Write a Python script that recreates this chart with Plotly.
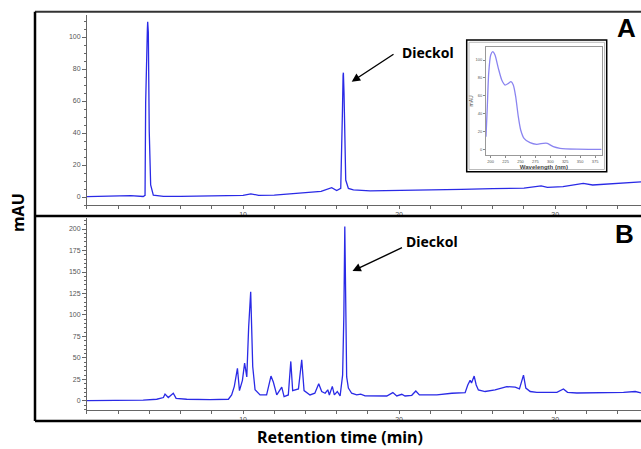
import plotly.graph_objects as go

# ---------------- data ----------------
# Panel A chromatogram (retention time, mAU)
tA = [0, 2.0, 2.8, 3.6, 3.72, 3.76, 3.82, 3.87, 3.89, 3.93, 3.99, 4.08, 4.25, 4.9, 6, 8, 10, 10.5, 11, 12, 14,
      15, 15.68, 16.0, 16.26, 16.32, 16.37, 16.41, 16.43, 16.47, 16.51, 16.58, 16.75, 17.07, 18.14, 20, 22, 24,
      26, 28, 29.1, 29.5, 30.5, 31.8, 32.4, 34, 35.5]
yA = [0.2, 0.3, 0.8, 0.3, 1, 59, 103, 105, 109.5, 103, 41, 7.5, 1.2, 0.4, 0.4, 0.5, 1, 2, 1, 1.2, 2.5,
      3.5, 5.8, 4, 5.4, 25, 54, 76, 77.7, 65, 34, 10.6, 5.4, 4.4, 3.8, 4, 4.3, 4.8,
      5.2, 5.6, 7, 6, 6.5, 8.5, 7.5, 8.5, 9.5]

# Panel B chromatogram
tB = [0, 2, 3.6, 4.47, 4.9, 5.0, 5.21, 5.53, 5.71, 6.39, 7.88, 9.06, 9.27, 9.44, 9.64, 9.77, 9.96, 10.1,
      10.24, 10.36, 10.49, 10.62, 10.77, 11.09, 11.51, 11.79, 11.94, 12.16, 12.48, 12.63, 12.9, 13.06, 13.18,
      13.55, 13.76, 13.91, 14.29, 14.6, 14.85, 15.04, 15.26, 15.43, 15.53, 15.72, 15.85, 16.04, 16.22, 16.38,
      16.46, 16.52, 16.57, 16.64, 16.75, 16.96, 17.28, 17.54, 17.82, 18.78, 19.21, 19.6, 19.85, 20.17, 20.38,
      20.81, 21.07, 21.3, 22.42, 23.38, 24.23, 24.4, 24.55, 24.64, 24.81, 24.94, 25.08, 25.51, 26.15, 26.9,
      27.44, 27.71, 27.97, 28.12, 28.4, 28.83, 30.11, 30.53, 30.79, 31.39, 33.95, 34.38, 35.13, 35.28, 35.5]
yB = [0.3, 0.5, 1, 2, 4, 8, 4, 9, 3, 2, 1.5, 2, 7, 17, 38, 12, 24, 44,
      28, 86, 127, 40, 13, 7, 7, 29, 22, 7, 16, 5, 7, 46, 12,
      14, 48, 12, 7, 9, 20, 11, 9, 13, 7, 17, 7, 11, 6, 30,
      100, 203, 100, 28, 15, 9, 7, 8, 6, 5.5, 5.8, 9.7, 5.8, 7.8, 5.8,
      6.6, 11.6, 7, 7, 9, 9.7, 18.6, 24, 21, 29, 18.6, 12.8, 11, 12.8, 16.7,
      16, 14, 30, 15, 11, 10, 10, 14, 10, 9.3, 9.3, 10, 11, 10, 9.3]

# Inset UV spectrum (wavelength nm, mAU)
wl = [192.1, 194.3, 196.6, 200, 203.4, 207.2, 212.8, 218.5, 224, 229.6, 234, 237.9, 241.9, 246.3, 250.3,
      255.9, 266, 277.2, 288.3, 295, 305, 316.3, 344.3, 386]
ab = [14, 47.7, 85, 105.6, 109.3, 105.6, 90.7, 77.6, 72, 73.8, 75.7, 72, 59, 36.5, 21.6,
      12.3, 7.4, 5.6, 6.7, 6.7, 2.9, 1.1, 0.2, 0]

x_ticks = [10, 20, 30]
yA_ticks = [0, 20, 40, 60, 80, 100]
yB_ticks = [0, 25, 50, 75, 100, 125, 150, 175, 200]
inset_x_ticks = [200, 225, 250, 275, 300, 325, 350, 375]
inset_y_ticks = [0, 20, 40, 60, 80, 100]

# ---------------- figure ----------------
W, H = 641, 449
def px(x): return x / W
def py(y): return 1 - y / H

LINE = '#2a2ae6'
AX = '#666666'
TF = dict(family='Liberation Sans', size=7, color='#555555')

fig = go.Figure()
fig.add_trace(go.Scatter(x=tA, y=yA, mode='lines', line=dict(color=LINE, width=1.3),
                         xaxis='x', yaxis='y', hoverinfo='skip'))
fig.add_trace(go.Scatter(x=tB, y=yB, mode='lines', line=dict(color=LINE, width=1.3),
                         xaxis='x2', yaxis='y2', hoverinfo='skip'))
fig.add_trace(go.Scatter(x=wl, y=ab, mode='lines', line=dict(color='#8a84f0', width=1.3, shape='spline', smoothing=0.6),
                         xaxis='x3', yaxis='y3', hoverinfo='skip'))

xcommon = dict(range=[0.001, 35.5], tickvals=x_ticks, ticks='outside', ticklen=3, tickcolor=AX,
               showline=True, linecolor=AX, linewidth=1, showgrid=False, zeroline=False, tickfont=TF,
               minor=dict(tickmode='linear', tick0=0, dtick=2, ticks='outside', ticklen=3, tickcolor=AX))
ycommon = dict(ticks='outside', ticklen=4, tickcolor=AX, showline=True, linecolor=AX, linewidth=1,
               showgrid=False, zeroline=False, tickfont=TF)

fig.update_layout(
    width=W, height=H, margin=dict(l=0, r=0, t=0, b=0),
    paper_bgcolor='white', plot_bgcolor='rgba(0,0,0,0)', showlegend=False,
    xaxis=dict(domain=[px(87), 1], anchor='y', **xcommon),
    yaxis=dict(domain=[py(205), py(15)], anchor='x', range=[-5, 113.75], tickvals=yA_ticks,
               minor=dict(tickmode='linear', tick0=0, dtick=5, ticks='outside', ticklen=2, tickcolor=AX),
               **ycommon),
    xaxis2=dict(domain=[px(87), 1], anchor='y2', **xcommon),
    yaxis2=dict(domain=[py(410), py(218)], anchor='x2', range=[-10.5, 212.8], tickvals=yB_ticks,
                minor=dict(tickmode='linear', tick0=0, dtick=5, ticks='outside', ticklen=2, tickcolor=AX),
                **ycommon),
    xaxis3=dict(domain=[px(486), px(601.7)], anchor='y3', range=[192.1, 386.2], tickvals=inset_x_ticks,
                ticks='outside', ticklen=2, tickcolor='#888', showline=True, mirror=True, linecolor='#999',
                linewidth=1, showgrid=False, zeroline=False,
                tickfont=dict(family='Liberation Sans', size=4, color='#555'),
                title=dict(text='<b>Wavelength (nm)</b>', font=dict(family='Liberation Sans', size=6, color='#444'),
                           standoff=1)),
    yaxis3=dict(domain=[py(155), py(46.7)], anchor='x3', range=[-6.4, 114.9], tickvals=inset_y_ticks,
                ticks='outside', ticklen=2, tickcolor='#888', showline=True, mirror=True, linecolor='#999',
                linewidth=1, showgrid=False, zeroline=False,
                tickfont=dict(family='Liberation Sans', size=4, color='#555'),
                title=dict(text='mAU', font=dict(family='Liberation Sans', size=5, color='#444'), standoff=1)),
)

# frame lines
shapes = [
    dict(type='rect', xref='paper', yref='paper', x0=px(466.7), x1=px(606.7), y0=py(171.7), y1=py(40),
         line=dict(color='black', width=1.5), fillcolor='white', layer='below'),
    dict(type='rect', xref='paper', yref='paper', x0=px(469), x1=px(604.5), y0=py(169.5), y1=py(42.3),
         line=dict(color='#bbbbbb', width=1), layer='below'),
    dict(type='line', xref='paper', yref='paper', x0=px(35), x1=1, y0=py(11.7), y1=py(11.7),
         line=dict(color='#333', width=2)),
    dict(type='line', xref='paper', yref='paper', x0=px(35), x1=px(35), y0=py(11.7), y1=py(421),
         line=dict(color='black', width=2.5)),
    dict(type='line', xref='paper', yref='paper', x0=px(35), x1=1, y0=py(216), y1=py(216),
         line=dict(color='black', width=2.5)),
    dict(type='line', xref='paper', yref='paper', x0=px(35), x1=1, y0=py(421), y1=py(421),
         line=dict(color='black', width=2.5)),
]
fig.update_layout(shapes=shapes)

BF = 'Noto Sans'
C = dict(xref='paper', yref='paper', xanchor='center', yanchor='middle', showarrow=False)
ann = [
    dict(text='<b>mAU</b>', x=px(18), y=py(213), textangle=-90,
         font=dict(family=BF, size=16, color='black'), **C),
    dict(text='<b>Retention time (min)</b>', x=px(340), y=py(437),
         font=dict(family=BF, size=16, color='black'), **C),
    dict(text='<b>A</b>', x=px(626.5), y=py(28),
         font=dict(family='Liberation Sans', size=26, color='black'), **C),
    dict(text='<b>B</b>', x=px(624.5), y=py(234),
         font=dict(family='Liberation Sans', size=26, color='black'), **C),
    dict(text='<b>Dieckol</b>', x=px(427.5), y=py(52.5),
         font=dict(family=BF, size=14, color='black'), **C),
    dict(text='<b>Dieckol</b>', x=px(432), y=py(241),
         font=dict(family=BF, size=14, color='black'), **C),
    dict(text='', x=px(351.7), y=py(81.7), xref='paper', yref='paper', showarrow=True,
         ax=43.3, ay=-28.4, axref='pixel', ayref='pixel', arrowhead=2, arrowsize=1.2, arrowwidth=1.4,
         arrowcolor='black', standoff=0),
    dict(text='', x=px(352.5), y=py(271), xref='paper', yref='paper', showarrow=True,
         ax=51, ay=-24, axref='pixel', ayref='pixel', arrowhead=2, arrowsize=1.2, arrowwidth=1.4,
         arrowcolor='black', standoff=0),
]
fig.update_layout(annotations=ann)

fig.write_html('out.html')
